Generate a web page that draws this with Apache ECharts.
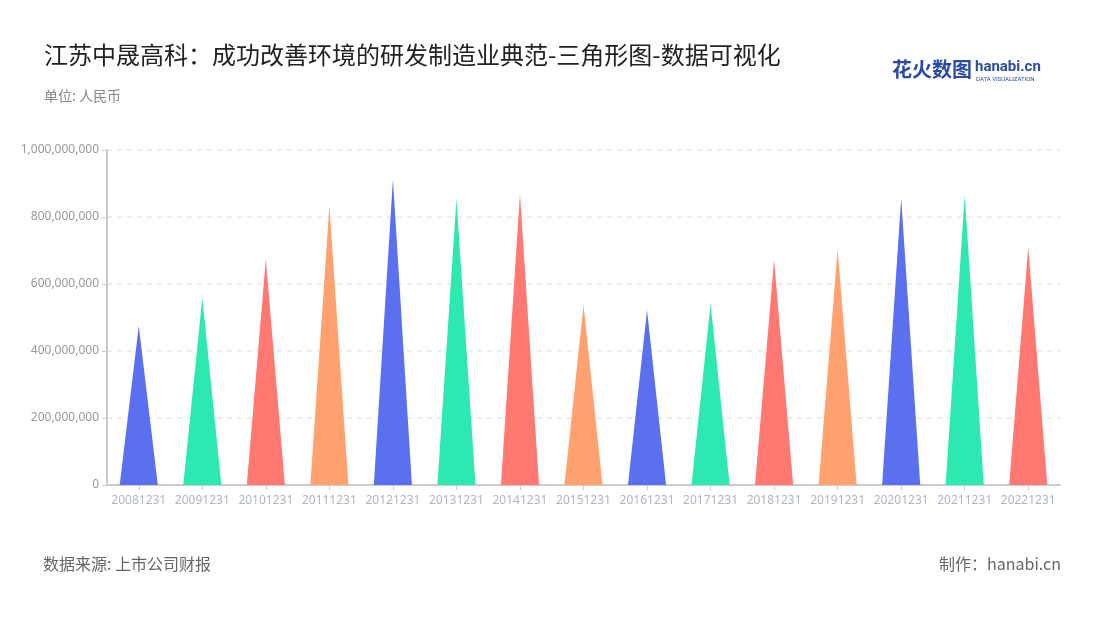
<!DOCTYPE html>
<html><head><meta charset="utf-8">
<script src="https://cdn.jsdelivr.net/npm/echarts@6/dist/echarts.min.js"></script>
<style>html,body{margin:0;padding:0;background:#fff}#c{width:1100px;height:620px}</style>
</head><body><div id="c"></div>
<script>
const categories = ['20081231','20091231','20101231','20111231','20121231','20131231','20141231','20151231','20161231','20171231','20181231','20191231','20201231','20211231','20221231'];
const values = [475000000,558000000,675000000,833000000,912000000,853000000,869000000,537000000,522000000,540000000,672000000,704000000,856000000,866000000,710000000];
const palette = ['#5a70ee','#2de8b0','#ff7872','#ffa270'];
const yTicks = {min:0, max:1000000000, interval:200000000};

const chart = echarts.init(document.getElementById('c'));
chart.setOption({
  animation:false,
  title:[
    {text:'江苏中晟高科：成功改善环境的研发制造业典范-三角形图-数据可视化', left:39, top:38,
     textStyle:{fontSize:24, fontWeight:'normal', color:'#222', fontFamily:'Noto Sans CJK SC'}},
    {text:'单位: 人民币', left:39, top:84, textStyle:{fontSize:14, fontWeight:'normal', color:'#888', fontFamily:'Noto Sans CJK SC'}}
  ],
  graphic:[
    {type:'text', left:43, top:556, style:{text:'数据来源: 上市公司财报', fontSize:16, fill:'#666', fontFamily:'Noto Sans CJK SC'}},
    {type:'text', right:39, top:556, style:{text:'制作：hanabi.cn', fontSize:16, fill:'#666', fontFamily:'Noto Sans CJK SC'}},
    {type:'text', left:892, top:59, style:{text:'花火数图', fontSize:20, fontWeight:'bold', fill:'#2a4aa8', fontFamily:'Noto Sans CJK SC'}},
    {type:'text', left:975, top:60, style:{text:'hanabi.cn', fontSize:15, fontWeight:'bold', fill:'#2a4aa8', fontFamily:'Roboto'}},
    {type:'text', left:976, top:76, style:{text:'DATA VISUALIZATION', fontSize:6, fill:'#2a4aa8', fontFamily:'Roboto'}}
  ],
  grid:{left:107, right:40, top:150, bottom:135, containLabel:false},
  xAxis:{type:'category', data:categories,
    axisLine:{lineStyle:{color:'#ccc', width:2}},
    axisTick:{show:true, alignWithLabel:true, lineStyle:{color:'#ccc'}},
    axisLabel:{color:'#b0b5c2', fontSize:12, interval:0, margin:10, fontFamily:'Noto Sans'}},
  yAxis:{type:'value', min:yTicks.min, max:yTicks.max, interval:yTicks.interval,
    axisLine:{show:true, lineStyle:{color:'#ccc', width:2}},
    axisTick:{show:true, lineStyle:{color:'#ccc'}},
    splitLine:{lineStyle:{type:[5,5], color:'#e6e6e6', width:1.5}},
    axisLabel:{color:'#999', fontSize:12, fontFamily:'Noto Sans', formatter:v=>v.toLocaleString('en-US')}},
  series:[{
    type:'pictorialBar',
    barWidth:'60%',
    symbol:'path://M0,10 L10,10 L5,0 Z',
    symbolSize:['100%','100%'],
    data: values.map((v,i)=>({value:v, itemStyle:{color:palette[i%4]}}))
  }]
});
</script></body></html>
